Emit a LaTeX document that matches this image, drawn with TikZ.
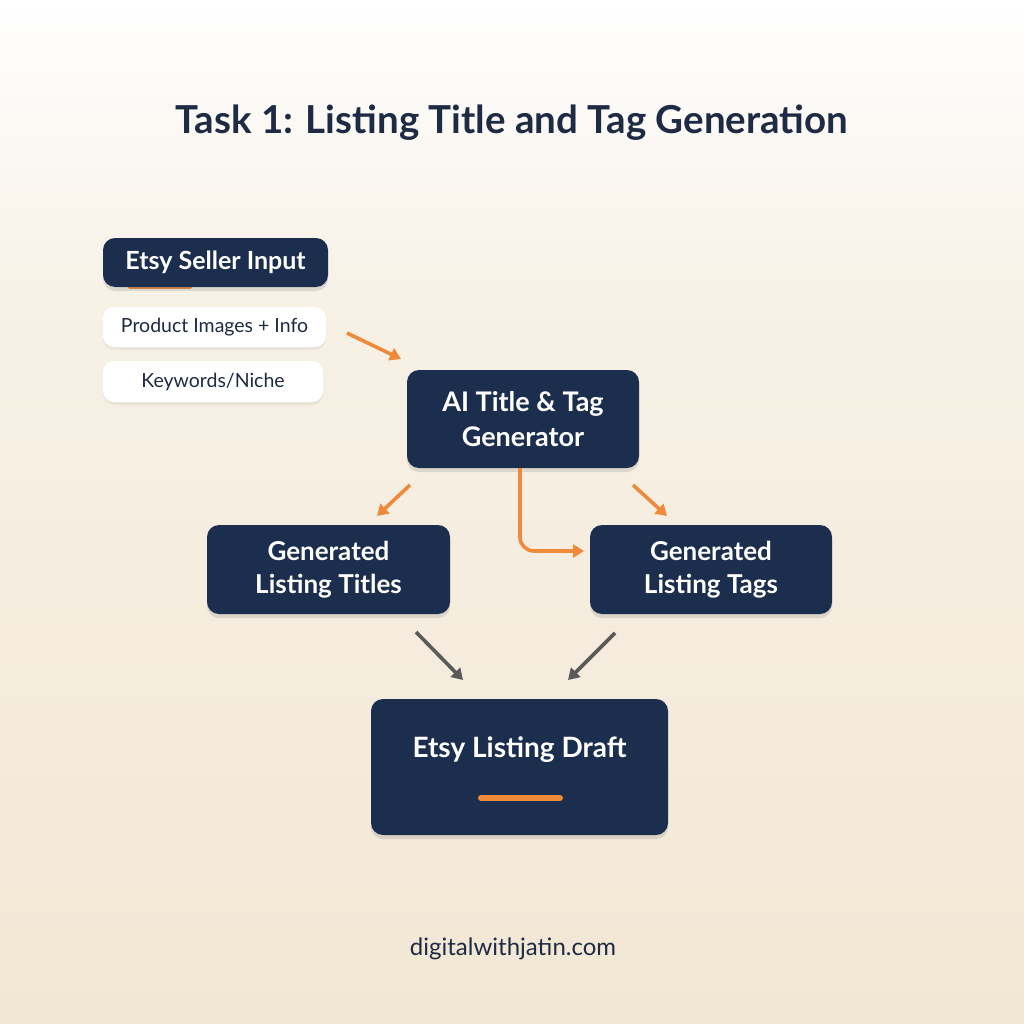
\documentclass[tikz,border=0pt]{standalone}
\usepackage{fontspec}
\setmainfont{Lato}
\usetikzlibrary{arrows.meta,shadows}
\definecolor{navy}{HTML}{1C2E4E}
\definecolor{org}{HTML}{EE8A3A}
\definecolor{gry}{HTML}{5A5A5A}
\definecolor{bgb}{HTML}{F2E7D4}
\definecolor{bgm}{HTML}{F7F1E6}
\definecolor{txt}{HTML}{1E2B45}
\begin{document}
\begin{tikzpicture}[x=1pt,y=-1pt,
  softshadow/.style={drop shadow={shadow xshift=0pt,shadow yshift=-4pt,opacity=0.18,fill=black!60}},
  navybox/.style={fill=navy,rounded corners=12pt,text=white,align=center,inner sep=0pt,softshadow},
  whitebox/.style={fill=white,rounded corners=11pt,text=txt,align=center,inner sep=0pt,
    drop shadow={shadow xshift=0pt,shadow yshift=-3pt,opacity=0.10,fill=black!50}},
  oarrow/.style={draw=org,line width=3.6pt,-{Triangle[length=11pt,width=13pt]}},
  garrow/.style={draw=gry,line width=3.6pt,-{Triangle[length=11pt,width=13pt]}}]
\useasboundingbox (0,0) rectangle (1024,1024);
\shade[top color=bgm,bottom color=bgb] (0,300) rectangle (1024,1024);
\shade[top color=white,bottom color=bgm] (0,0) rectangle (1024,300.5);

\node[text=txt,font=\fontsize{38.5}{44}\selectfont\bfseries] (title) at (512,123) {Task 1: Listing Title and Tag Generation};

\draw[org,line width=4pt,line cap=round] (130,287) -- (190,287);
\node[navybox,minimum width=225pt,minimum height=49pt,font=\fontsize{25}{30}\selectfont\bfseries] (inp) at (215.5,262.5) {Etsy Seller Input};
\node[whitebox,minimum width=223pt,minimum height=40pt,font=\fontsize{19.5}{23}\selectfont] (img) at (214.5,327) {Product Images + Info};
\node[whitebox,minimum width=220pt,minimum height=41pt,font=\fontsize{19.5}{23}\selectfont] (kw) at (213,381.5) {Keywords/Niche};

\node[navybox,minimum width=232pt,minimum height=98pt,font=\fontsize{27}{35}\selectfont\bfseries] (gen) at (523,419) {AI Title \& Tag\\Generator};
\node[navybox,minimum width=243pt,minimum height=89pt,font=\fontsize{26}{33}\selectfont\bfseries] (titles) at (328.5,569.5) {Generated\\Listing Titles};
\node[navybox,minimum width=242pt,minimum height=89pt,font=\fontsize{26}{33}\selectfont\bfseries] (tags) at (711,569.5) {Generated\\Listing Tags};
\node[navybox,minimum width=297pt,minimum height=136pt] (draft) at (519.5,767) {};
\node[text=white,font=\fontsize{28}{33}\selectfont\bfseries] (draftlbl) at (519.5,750) {Etsy Listing Draft};
\draw[org,line width=6pt,line cap=round] (481,798) -- (560,798);

\node[text=txt,font=\fontsize{24}{28}\selectfont] (foot) at (513,949) {digitalwithjatin.com};

\coordinate (a1s) at (347,333); \coordinate (a1e) at (401,359);
\coordinate (a2s) at (410,485); \coordinate (a2e) at (377,516);
\coordinate (a3s) at (633,485); \coordinate (a3e) at (667,516);
\coordinate (elb) at (584,551);
\coordinate (g1s) at (416,632); \coordinate (g1e) at (463,680);
\coordinate (g2s) at (615,633); \coordinate (g2e) at (568,680);

\draw[oarrow] (a1s) -- (a1e);
\draw[oarrow] (a2s) -- (a2e);
\draw[oarrow] (a3s) -- (a3e);
\draw[oarrow,rounded corners=14pt] (gen.south -| 520,0) |- (elb);
\draw[garrow] (g1s) -- (g1e);
\draw[garrow] (g2s) -- (g2e);
\end{tikzpicture}
\end{document}
